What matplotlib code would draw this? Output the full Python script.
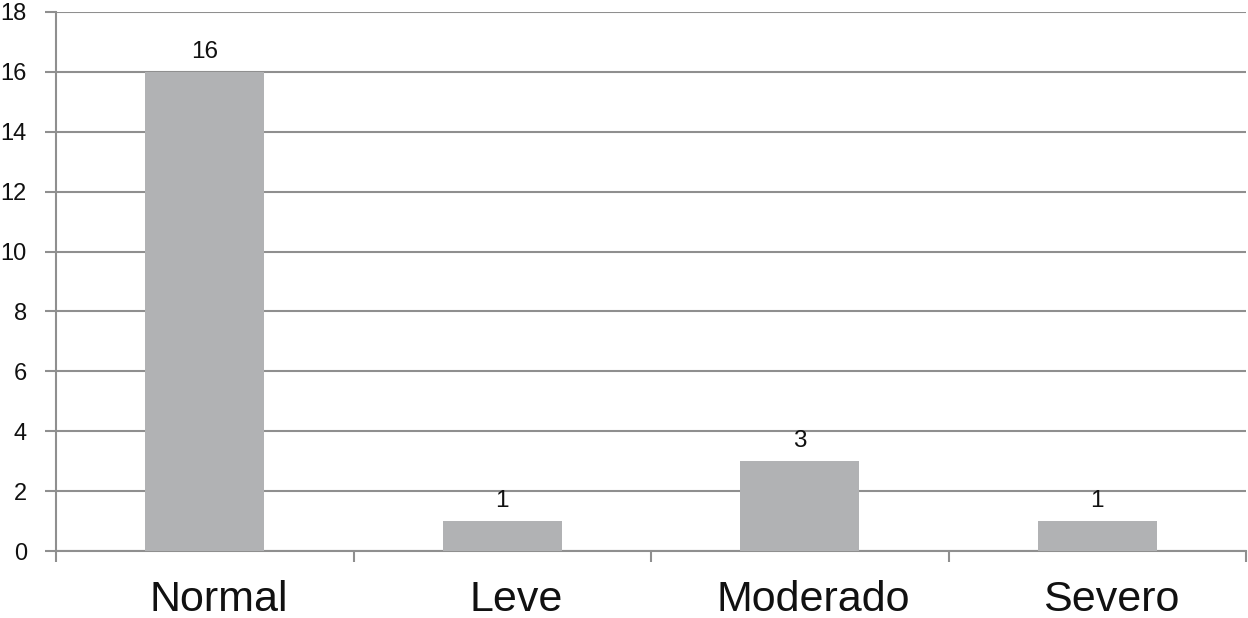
import matplotlib
matplotlib.use("Agg")
import matplotlib.pyplot as plt
from matplotlib.transforms import ScaledTranslation
import numpy as np

plt.rcParams['font.family'] = ['Liberation Sans', 'DejaVu Sans']

categories = ["Normal", "Leve", "Moderado", "Severo"]
counts = [16, 1, 3, 1]
y_ticks = [0, 2, 4, 6, 8, 10, 12, 14, 16, 18]

grey_line = "#8f8f8f"
bar_color = "#b1b2b4"

fig = plt.figure(figsize=(12.48, 6.18), dpi=100)
ax = fig.add_axes([56 / 1248, 1 - 551 / 618, 1190 / 1248, 539 / 618])

x = np.arange(len(categories))
bars = ax.bar(x, counts, width=0.4, color=bar_color, zorder=3)

# Value labels above each bar
for xi, v in zip(x, counts):
    ax.annotate(str(v), (xi, v), xytext=(0, 6.5), textcoords="offset points",
                ha="center", va="bottom", fontsize=17.5, color="#111111")

ax.set_xlim(-0.5, len(categories) - 0.5)
ax.set_ylim(0, 18)
ax.set_yticks(y_ticks)
ax.yaxis.grid(True, color=grey_line, linewidth=1.5, zorder=0)

# Category labels, tick marks between categories
ax.set_xticks(x)
ax.set_xticklabels(categories, fontsize=31, color="#111111")
ax.tick_params(axis="x", length=0, pad=21)
ax.set_xticks(np.arange(-0.5, len(categories)), minor=True)
ax.tick_params(axis="x", which="minor", length=8, width=1.5, color=grey_line, direction="out")
ax.tick_params(axis="y", length=8, width=1.5, color=grey_line, labelsize=17,
               labelcolor="#111111", pad=13)

# labels sit a little right of the bar centres in the original
shift = ScaledTranslation(14 / 100, 0, fig.dpi_scale_trans)
for lab in ax.get_xticklabels():
    lab.set_transform(lab.get_transform() + shift)

for side in ["top", "right"]:
    ax.spines[side].set_visible(False)
for side in ["left", "bottom"]:
    ax.spines[side].set_color(grey_line)
    ax.spines[side].set_linewidth(1.5)

fig.savefig("out.png", dpi=100)
